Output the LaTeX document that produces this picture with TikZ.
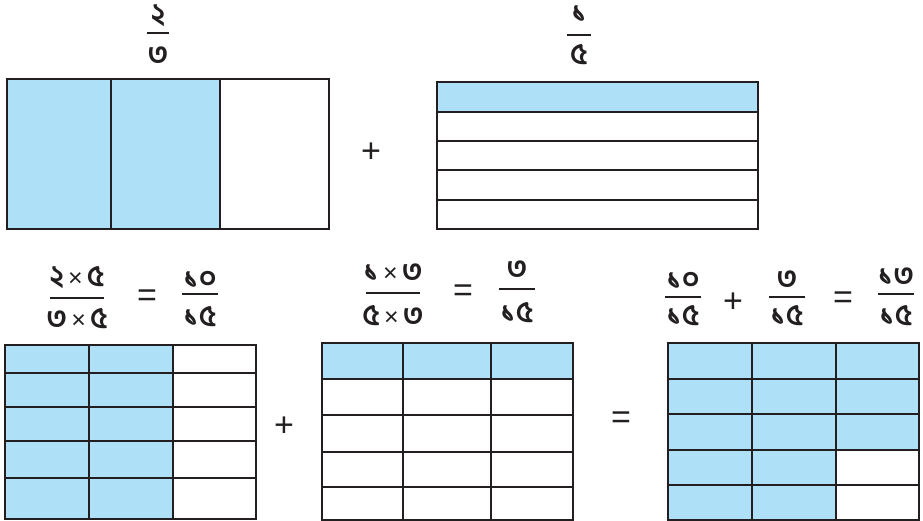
\documentclass[tikz,border=0pt]{standalone}
\usepackage{fontspec}
\setmainfont{Liberation Sans}
\newfontfamily\bn[Script=Bengali]{Hind Siliguri}
\definecolor{fracblue}{RGB}{174,224,247}
\definecolor{ink}{RGB}{35,31,32}
\newcommand\tms{{\rmfamily\mdseries\fontsize{25}{25}\selectfont\,×\,}}
% fraction: name, x, ybar, halfwidth, num, num baseline, den, den baseline
\newcommand\bnfrac[8]{%
  \coordinate (#1-l) at (#2-#4,#3);
  \coordinate (#1-r) at (#2+#4,#3);
  \draw[fbar] (#1-l) -- (#1-r);
  \node[dig] (#1-n) at (#2,#6) {#5};
  \node[dig] (#1-d) at (#2,#8) {#7};}
\begin{document}
\begin{tikzpicture}[x=1pt,y=-1pt,
  gridline/.style={draw=ink,line width=2.5pt},
  shaded/.style={fill=fracblue},
  dig/.style={font=\bn\bfseries\fontsize{30}{30}\selectfont,inner sep=0pt,text=ink,anchor=base},
  fbar/.style={draw=ink,line width=2pt},
  op/.style={font=\fontsize{34}{34}\selectfont,inner sep=0pt,text=ink}]
\useasboundingbox (0,0) rectangle (923,521);

% ---------- top left: 2/3 ----------
\bnfrac{f1}{158}{33}{11}{২}{25}{৩}{65}
\fill[shaded] (7,79) rectangle (220,229);
\draw[gridline] (7,79) rectangle (329,229);
\draw[gridline] (111,79) -- (111,229);
\draw[gridline] (220,79) -- (220,229);

\node[op] (plus1) at (371,153) {+};

% ---------- top right: 1/5 ----------
\bnfrac{f2}{579}{35}{12}{১}{23}{৫}{65}
\fill[shaded] (437,82) rectangle (758,112);
\draw[gridline] (437,82) rectangle (758,229);
\foreach \yy in {112,141,170,200}
  \draw[gridline] (437,\yy) -- (758,\yy);

% ---------- bottom left ----------
\bnfrac{f3}{77}{298}{27}{২\tms ৫}{287}{৩\tms ৫}{328}
\node[op] (eq1) at (147,298) {=};
\bnfrac{f4}{200}{294}{18}{১০}{288}{১৫}{326}
\fill[shaded] (5,345) rectangle (173,519);
\draw[gridline] (5,345) rectangle (256,519);
\foreach \xx in {89,173}
  \draw[gridline] (\xx,345) -- (\xx,519);
\foreach \yy in {373,407,441,478}
  \draw[gridline] (5,\yy) -- (256,\yy);

\node[op] (plus2) at (284,427) {+};

% ---------- bottom middle ----------
\bnfrac{f5}{393}{293}{27}{১\tms ৩}{281}{৫\tms ৩}{325}
\node[op] (eq2) at (463,293) {=};
\bnfrac{f6}{517}{289}{18}{৩}{279}{১৫}{322}
\fill[shaded] (322,343) rectangle (573,379);
\draw[gridline] (322,343) rectangle (573,520);
\foreach \xx in {403,491}
  \draw[gridline] (\xx,343) -- (\xx,520);
\foreach \yy in {379,415,452,487}
  \draw[gridline] (322,\yy) -- (573,\yy);

\node[op] (eq3) at (621,420) {=};

% ---------- bottom right ----------
\bnfrac{f7}{683}{297}{18}{১০}{289}{১৫}{325}
\node[op] (plus3) at (733,303) {+};
\bnfrac{f8}{787}{297}{18}{৩}{288}{১৫}{325}
\node[op] (eq4) at (843,300) {=};
\bnfrac{f9}{896}{294}{18}{১৩}{285}{১৫}{325}
\fill[shaded] (668,343) rectangle (919,450);
\fill[shaded] (668,450) rectangle (836,520);
\draw[gridline] (668,343) rectangle (919,520);
\foreach \xx in {752,836}
  \draw[gridline] (\xx,343) -- (\xx,520);
\foreach \yy in {379,414,450,485}
  \draw[gridline] (668,\yy) -- (919,\yy);
\end{tikzpicture}
\end{document}
